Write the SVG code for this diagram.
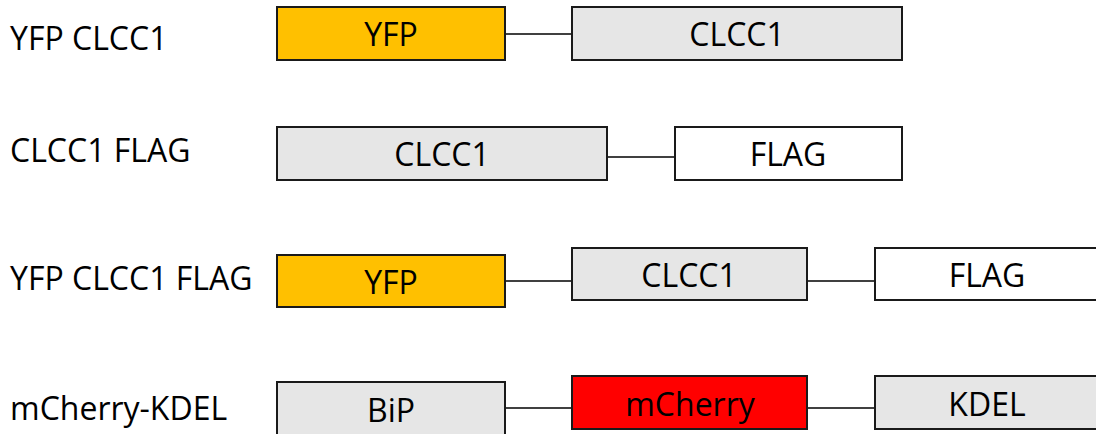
<svg xmlns="http://www.w3.org/2000/svg" width="1096" height="434" viewBox="0 0 1096 434">
<style>
text{font-family:"Open Sans","Noto Sans","Liberation Sans",sans-serif;font-size:32px;fill:#000}
.c{text-anchor:middle}
.box{stroke:#1a1a1a;stroke-width:2}
.y{fill:#FFC000}.g{fill:#E6E6E6}.w{fill:#FFFFFF}.r{fill:#FF0000}
.ln{stroke:#000;stroke-width:1.3;fill:none}
</style>
<rect width="1096" height="434" fill="#fff"/>
<g id="labels">
<text x="10" y="50">YFP CLCC1</text>
<text x="10" y="162">CLCC1 FLAG</text>
<text x="10" y="290">YFP CLCC1 FLAG</text>
<text x="10" y="420">mCherry-KDEL</text>
</g>
<g id="connectors">
<line class="ln" x1="505" y1="34" x2="572" y2="34"/>
<line class="ln" x1="607" y1="157" x2="675" y2="157"/>
<line class="ln" x1="505" y1="281" x2="572" y2="281"/>
<line class="ln" x1="807" y1="281" x2="875" y2="281"/>
<line class="ln" x1="505" y1="408" x2="572" y2="408"/>
<line class="ln" x1="807" y1="408" x2="875" y2="408"/>
</g>
<g id="r1-yfp"><rect class="box y" x="277" y="7" width="228" height="53"/><text class="c" x="391" y="46">YFP</text></g>
<g id="r1-clcc1"><rect class="box g" x="572" y="7" width="330" height="53"/><text class="c" x="737" y="46">CLCC1</text></g>
<g id="r2-clcc1"><rect class="box g" x="277" y="127" width="330" height="53"/><text class="c" x="442" y="166">CLCC1</text></g>
<g id="r2-flag"><rect class="box w" x="675" y="127" width="227" height="53"/><text class="c" x="788" y="166">FLAG</text></g>
<g id="r3-yfp"><rect class="box y" x="277" y="255" width="228" height="52"/><text class="c" x="391" y="294">YFP</text></g>
<g id="r3-clcc1"><rect class="box g" x="572" y="248" width="235" height="52"/><text class="c" x="689" y="287">CLCC1</text></g>
<g id="r3-flag"><rect class="box w" x="875" y="248" width="225" height="52"/><text class="c" x="987" y="287">FLAG</text></g>
<g id="r4-bip"><rect class="box g" x="277" y="382" width="228" height="56"/><text class="c" x="391" y="422">BiP</text></g>
<g id="r4-mcherry"><rect class="box r" x="572" y="376" width="235" height="53"/><text class="c" x="690" y="416">mCherry</text></g>
<g id="r4-kdel"><rect class="box g" x="875" y="376" width="225" height="53"/><text class="c" x="987" y="416">KDEL</text></g>
</svg>
